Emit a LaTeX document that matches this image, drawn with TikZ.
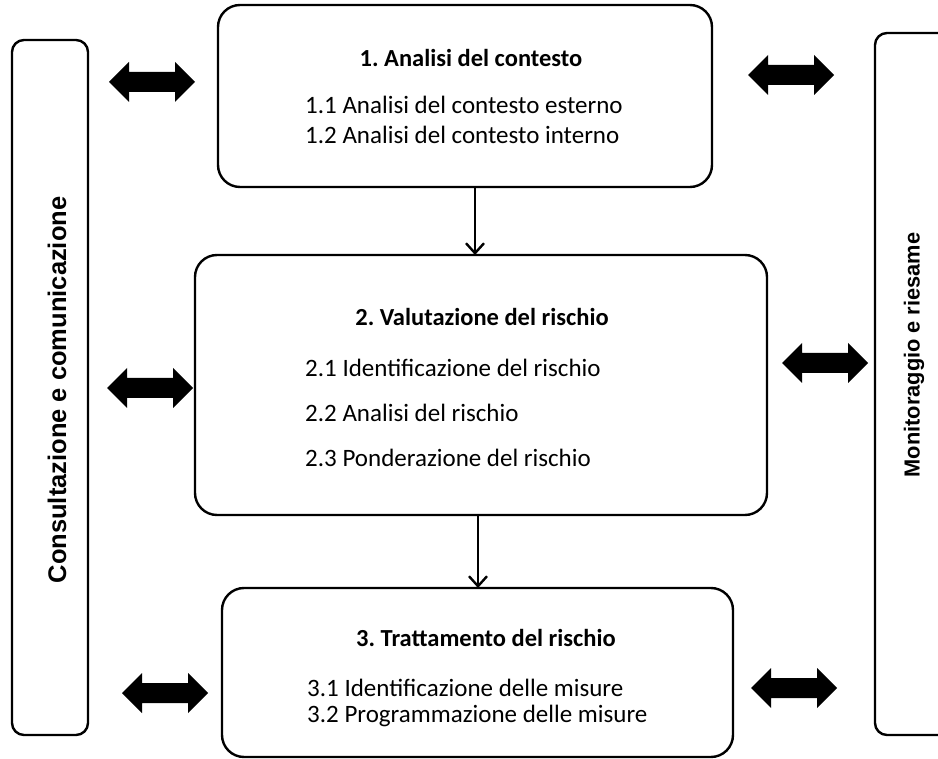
\documentclass[tikz,border=0pt]{standalone}
\usepackage{fontspec}
\setmainfont{Carlito}
\newfontfamily\sidefont{Liberation Sans}
\usetikzlibrary{arrows.meta}
\frenchspacing
\tikzset{
  mainbox/.style={draw, line width=2.4pt, rounded corners=22pt},
  sidebox/.style={draw, line width=2.4pt, rounded corners=12pt},
  ttl/.style={font=\fontsize{24.5}{28}\selectfont\bfseries, inner sep=0pt},
  itm/.style={font=\fontsize{25}{28}\selectfont, inner sep=0pt, anchor=west},
  flow/.style={line width=2.6pt, -{Straight Barb[length=10pt,width=18pt,line width=2.4pt]}},
  dbl/.pic={\fill (-43,0) -- (-23,-20) -- (-23,-10) -- (23,-10) -- (23,-20) -- (43,0) -- (23,20) -- (23,10) -- (-23,10) -- (-23,20) -- cycle;}
}
\begin{document}
\begin{tikzpicture}[x=1pt,y=-1pt]
\useasboundingbox (0,0) rectangle (938,759);
\clip (0,0) rectangle (938,759);
\fill[white] (0,0) rectangle (938,759);
% side boxes
\draw[sidebox] (12,40) rectangle (88,735);
\draw[sidebox] (875,33) rectangle (960,735);
\node[rotate=90, font=\sidefont\fontsize{25.5}{28}\selectfont\bfseries, inner sep=0pt] (cons) at (57,390) {Consultazione e comunicazione};
\node[rotate=90, font=\sidefont\fontsize{21.8}{26}\selectfont\bfseries, inner sep=0pt] (mon) at (914,355) {Monitoraggio e riesame};
% main boxes
\draw[mainbox] (218,5) rectangle (712,187);
\draw[mainbox] (195,255) rectangle (767,515);
\draw[mainbox] (222,588) rectangle (733,757);
\coordinate (b1s) at (475,187);
\coordinate (b2n) at (475,255);
\coordinate (b2s) at (478,515);
\coordinate (b3n) at (478,588);
% texts
\node[ttl] (t1) at (471,58) {1. Analisi del contesto};
\node[itm] (t11) at (305,105) {1.1 Analisi del contesto esterno};
\node[itm] (t12) at (305,135) {1.2 Analisi del contesto interno};
\node[ttl] (t2) at (482,317) {2. Valutazione del rischio};
\node[itm] (t21) at (305,368) {2.1 Identificazione del rischio};
\node[itm] (t22) at (305,413) {2.2 Analisi del rischio};
\node[itm] (t23) at (305,458) {2.3 Ponderazione del rischio};
\node[ttl] (t3) at (486,638) {3. Trattamento del rischio};
\node[itm] (t31) at (307,688) {3.1 Identificazione delle misure};
\node[itm] (t32) at (307,716) {3.2 Programmazione delle misure};
% flow arrows
\draw[flow] (b1s) -- (b2n);
\draw[flow] (b2s) -- (b3n);
% double arrows
\pic at (152,82) {dbl};
\pic at (791,75) {dbl};
\pic at (150,388) {dbl};
\pic at (825,363) {dbl};
\pic at (165,693) {dbl};
\pic at (794,688) {dbl};
\end{tikzpicture}
\end{document}
